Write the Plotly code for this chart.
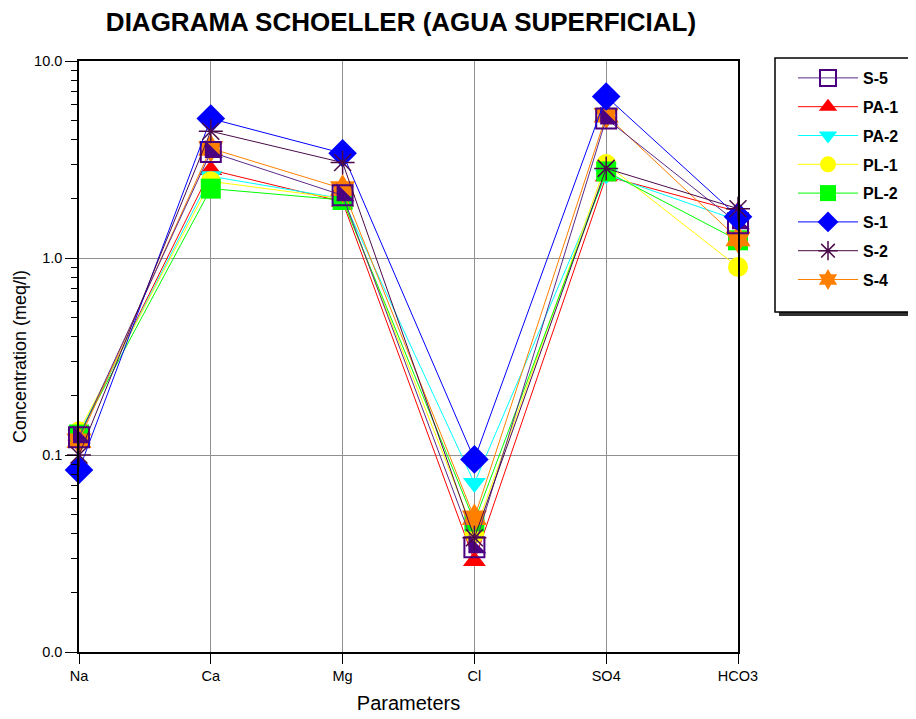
import plotly.graph_objects as go

params = ["Na", "Ca", "Mg", "Cl", "SO4", "HCO3"]

s5 = [0.123, 3.45, 2.08, 0.034, 5.1, 1.50]
pa1 = [0.125, 2.80, 1.93, 0.029, 2.6, 1.72]
pa2 = [0.128, 2.60, 2.00, 0.072, 2.65, 1.55]
pl1 = [0.132, 2.45, 2.00, 0.040, 3.0, 0.90]
pl2 = [0.127, 2.25, 1.97, 0.046, 2.75, 1.23]
s1 = [0.084, 5.10, 3.40, 0.095, 6.6, 1.62]
s2 = [0.100, 4.40, 3.05, 0.038, 2.85, 1.78]
s4 = [0.118, 3.60, 2.25, 0.048, 5.3, 1.25]

y_tickvals = [0.01, 0.1, 1, 10]
y_ticktext = ["0.0", "0.1", "1.0", "10.0"]

FONT = "Liberation Sans, Arial, sans-serif"

# figure geometry (page is offset by 8px body margin)
W, H = 908, 711
L, R, T, B = 71, 178, 53, 67
PW = W - L - R
PH = H - T - B


def px_x(fx):
    return (fx - L) / PW


def px_y(fy):
    return (H - B - fy) / PH


fig = go.Figure()


def add(name, y, color, symbol, rank, lcolor=None, size=20, mline=None):
    fig.add_trace(go.Scatter(
        x=params, y=y, name=name, mode="lines+markers",
        line=dict(color=lcolor or color, width=1),
        marker=dict(symbol=symbol, size=size, color=color,
                    line=mline or dict(width=0)),
        cliponaxis=False, legendrank=rank, legendgroup=name,
    ))


# draw order (bottom to top)
add("PA-1", pa1, "#ff0000", "triangle-up", 2)
add("PA-2", pa2, "#00ffff", "triangle-down", 3)
add("PL-1", pl1, "#ffff00", "circle", 4)
add("PL-2", pl2, "#00ff00", "square", 5)
add("S-4", s4, "#ff8000", "hexagram", 8, size=22)
add("S-5", s5, "#4b0082", "square-open", 1, lcolor="#5a2a8a", size=20,
    mline=dict(width=2, color="#4b0082"))
fig.add_trace(go.Scatter(
    x=params, y=s5, name="S-5", mode="markers",
    marker=dict(symbol="triangle-sw", size=20, color="#4b0082", line=dict(width=0)),
    cliponaxis=False, showlegend=False, legendgroup="S-5", hoverinfo="skip",
))
add("S-1", s1, "#0000ff", "diamond", 6, size=22)
add("S-2", s2, "#4a0a4a", "asterisk-open", 7, size=20,
    mline=dict(width=1.5, color="#4a0a4a"))

minor_vals = [m * 10 ** k for k in (-2, -1, 0) for m in range(2, 10)]

fig.update_layout(
    width=W, height=H,
    paper_bgcolor="white", plot_bgcolor="white",
    margin=dict(l=L, r=R, t=T, b=B, autoexpand=False),
    font=dict(family=FONT, color="black"),
    title=dict(text="<b>DIAGRAMA SCHOELLER (AGUA SUPERFICIAL)</b>",
               x=393 / W, xanchor="center", y=1 - 14 / H, yanchor="middle",
               font=dict(size=26, family=FONT, color="black")),
    showlegend=True,
    legend=dict(x=px_x(785), xanchor="left", y=px_y(53), yanchor="top",
                bgcolor="rgba(0,0,0,0)", borderwidth=0,
                font=dict(size=16, family=FONT, color="black", weight="bold"),
                itemwidth=60, tracegroupgap=5, traceorder="grouped",
                itemsizing="trace"),
    shapes=[
        dict(type="rect", xref="paper", yref="paper",
             x0=px_x(771), x1=px_x(909), y0=px_y(308), y1=px_y(54),
             fillcolor="#303030", line=dict(width=0), layer="below"),
        dict(type="rect", xref="paper", yref="paper",
             x0=px_x(767), x1=px_x(904), y0=px_y(304), y1=px_y(50),
             fillcolor="white", line=dict(width=1.5, color="black"), layer="below"),
    ],
)

fig.update_xaxes(
    type="category", range=[0, 5], automargin=False,
    showgrid=True, gridcolor="#909090", gridwidth=1,
    showline=True, linecolor="black", linewidth=1.5, mirror=True,
    ticks="outside", ticklen=10, tickcolor="black",
    tickfont=dict(size=14.5, family=FONT),
    title=dict(text="Parameters", font=dict(size=20, family=FONT), standoff=13),
    zeroline=False,
)
fig.update_yaxes(
    type="log", range=[-2, 1], automargin=False,
    tickmode="array", tickvals=y_tickvals, ticktext=y_ticktext,
    showgrid=True, gridcolor="#909090", gridwidth=1,
    showline=True, linecolor="black", linewidth=1.5, mirror=True,
    ticks="outside", ticklen=12, tickcolor="black",
    tickfont=dict(size=14.5, family=FONT),
    minor=dict(tickmode="array", tickvals=minor_vals, ticks="outside",
               ticklen=6, tickcolor="black", showgrid=False),
    title=dict(text="Concentration (meq/l)", font=dict(size=18, family=FONT), standoff=3),
    zeroline=False,
)

fig.write_html("out.html")
